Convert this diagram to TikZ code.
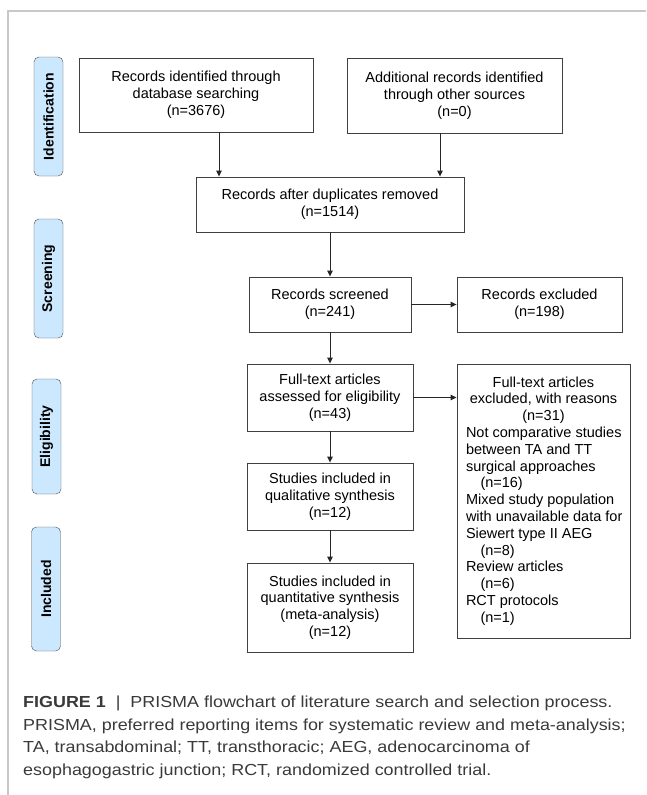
\documentclass[tikz,border=0pt]{standalone}
\usepackage{fontspec}
\setmainfont{Liberation Sans}
\usetikzlibrary{arrows.meta}
\definecolor{stagefill}{HTML}{CCE8FF}
\definecolor{framegray}{HTML}{C8C8C8}
\definecolor{captext}{HTML}{3A3A3A}
\newcommand{\capline}[1]{\scalebox{1.12}[1]{#1}}
\begin{document}
\begin{tikzpicture}[x=1pt,y=-1pt,
    box/.style={draw=black!75, line width=0.9pt, align=center, inner sep=0pt,
      font=\fontsize{14.5}{16.8}\selectfont},
    stage/.style={draw=black!70, fill=stagefill, rounded corners=5pt, rotate=90,
      inner sep=0pt, minimum height=29pt, font=\bfseries\fontsize{14}{16}\selectfont},
    flow/.style={draw=black!85, line width=0.9pt, -{Triangle[length=6pt,width=5.5pt]}}]
  \useasboundingbox (0,0) rectangle (646,795);
  \draw [framegray, line width=1.5pt] (8,795) -- (8,11) -- (646,11);

  \node [stage, minimum width=119pt] (ident) at (48.5,116.5) {Identification};
  \node [stage, minimum width=119pt] (screen) at (48.5,278.5) {Screening};
  \node [stage, minimum width=115pt] (elig) at (46.5,436.5) {Eligibility};
  \node [stage, minimum width=124pt] (incl) at (46,589) {Included};

  \node [box, minimum width=234pt, minimum height=74pt] (db) at (196,95)
    {Records identified through\\database searching\\(n=3676)};
  \node [box, minimum width=215pt, minimum height=75pt] (other) at (454.5,95.5)
    {Additional records identified\\through other sources\\(n=0)};
  \node [box, minimum width=268pt, minimum height=55pt] (dup) at (330,204.5)
    {Records after duplicates removed\\(n=1514)};
  \node [box, minimum width=162pt, minimum height=55pt] (scr) at (330,304.5)
    {Records screened\\(n=241)};
  \node [box, minimum width=165pt, minimum height=55pt] (scrx) at (539.5,304.5)
    {Records excluded\\(n=198)};
  \node [box, minimum width=166pt, minimum height=67pt] (full) at (330,397.5)
    {Full-text articles\\assessed for eligibility\\(n=43)};
  \node [box, minimum width=173pt, minimum height=274pt] (fullx) at (543.5,501)
    {Full-text articles\\excluded, with reasons\\(n=31)\\
     \makebox[155pt][l]{Not comparative studies}\\
     \makebox[155pt][l]{between TA and TT}\\
     \makebox[155pt][l]{surgical approaches}\\
     \makebox[155pt][l]{\quad(n=16)}\\
     \makebox[155pt][l]{Mixed study population}\\
     \makebox[155pt][l]{with unavailable data for}\\
     \makebox[155pt][l]{Siewert type II AEG}\\
     \makebox[155pt][l]{\quad(n=8)}\\
     \makebox[155pt][l]{Review articles}\\
     \makebox[155pt][l]{\quad(n=6)}\\
     \makebox[155pt][l]{RCT protocols}\\
     \makebox[155pt][l]{\quad(n=1)}};
  \node [box, minimum width=166pt, minimum height=67pt] (qual) at (330,496.5)
    {Studies included in\\qualitative synthesis\\(n=12)};
  \node [box, minimum width=166pt, minimum height=89pt] (quant) at (330,607.5)
    {Studies included in\\quantitative synthesis\\(meta-analysis)\\(n=12)};

  \draw [flow] ([xshift=23pt]db.south) -- ([xshift=23pt]db.south |- dup.north);
  \draw [flow] ([xshift=-14.5pt]other.south) -- ([xshift=-14.5pt]other.south |- dup.north);
  \draw [flow] (dup) -- (scr);
  \draw [flow] (scr) -- (scrx);
  \draw [flow] (scr) -- (full);
  \draw [flow] (full) -- (full -| fullx.west);
  \draw [flow] (full) -- (qual);
  \draw [flow] (qual) -- (quant);

  \node [anchor=north west, inner sep=0pt, align=left, text=captext,
    font=\fontsize{16}{22.5}\selectfont] (cap) at (23,696)
    {\capline{\textbf{FIGURE 1}\ \ \textbar\ \ PRISMA flowchart of literature search and selection process.}\\
     \capline{PRISMA, preferred reporting items for systematic review and meta-analysis;}\\
     \capline{TA, transabdominal; TT, transthoracic; AEG, adenocarcinoma of}\\
     \capline{esophagogastric junction; RCT, randomized controlled trial.}};
\end{tikzpicture}
\end{document}
